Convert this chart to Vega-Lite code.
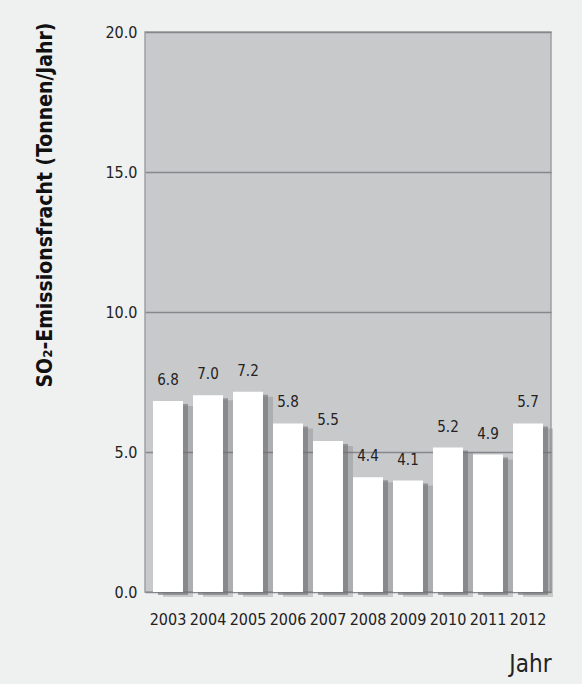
{
  "$schema": "https://vega.github.io/schema/vega-lite/v6.json",
  "width": 406,
  "height": 560,
  "autosize": {"type": "none"},
  "padding": {"left": 145, "top": 32, "right": 31, "bottom": 92},
  "background": "#eff0f0",
  "config": {
    "view": {"fill": "#c8c9cb", "stroke": "#9fa0a4", "strokeWidth": 1.5},
    "font": "'Liberation Sans Narrow', 'DejaVu Sans Condensed', sans-serif"
  },
  "data": {
    "values": [
      {"Jahr": "2003", "Wert": 6.82, "Label": "6.8"},
      {"Jahr": "2004", "Wert": 7.03, "Label": "7.0"},
      {"Jahr": "2005", "Wert": 7.15, "Label": "7.2"},
      {"Jahr": "2006", "Wert": 6.02, "Label": "5.8"},
      {"Jahr": "2007", "Wert": 5.39, "Label": "5.5"},
      {"Jahr": "2008", "Wert": 4.1, "Label": "4.4"},
      {"Jahr": "2009", "Wert": 3.98, "Label": "4.1"},
      {"Jahr": "2010", "Wert": 5.16, "Label": "5.2"},
      {"Jahr": "2011", "Wert": 4.91, "Label": "4.9"},
      {"Jahr": "2012", "Wert": 6.02, "Label": "5.7"}
    ]
  },
  "encoding": {
    "x": {
      "field": "Jahr",
      "type": "ordinal",
      "scale": {"paddingInner": 0.25, "paddingOuter": 0.2},
      "axis": {
        "title": "Jahr",
        "labelAngle": 0,
        "labelFontSize": 16,
        "labelColor": "#222",
        "labelPadding": 19,
        "ticks": false,
        "domain": false,
        "titleFontSize": 24,
        "titleFontWeight": "normal",
        "titleColor": "#222",
        "titleAnchor": "end",
        "titleAlign": "right",
        "titleBaseline": "middle",
        "titleX": 406,
        "titleY": 72
      }
    },
    "y": {
      "field": "Wert",
      "type": "quantitative",
      "scale": {"domain": [0, 20], "nice": false},
      "axis": {
        "title": "SO₂-Emissionsfracht (Tonnen/Jahr)",
        "values": [0, 5, 10, 15, 20],
        "format": ".1f",
        "labelFontSize": 16,
        "labelColor": "#222",
        "labelPadding": 8,
        "ticks": false,
        "domain": false,
        "grid": true,
        "gridColor": "#86878c",
        "gridWidth": 1.5,
        "titleFontSize": 21,
        "titleFontWeight": "bold",
        "titleColor": "#111",
        "titleAnchor": "end",
        "titleAlign": "right",
        "titleBaseline": "middle",
        "titleAngle": -90,
        "titleX": -100,
        "titleY": -10
      }
    }
  },
  "layer": [
    {
      "mark": {"type": "bar", "color": "#6f7075", "opacity": 0.3, "xOffset": 10, "x2Offset": 10, "yOffset": 5, "y2Offset": 8, "clip": false}
    },
    {
      "mark": {"type": "bar", "color": "#6f7075", "opacity": 0.6, "xOffset": 5, "x2Offset": 5, "yOffset": 3, "y2Offset": 5, "clip": false}
    },
    {
      "mark": {"type": "bar", "color": "#ffffff"}
    },
    {
      "mark": {"type": "text", "dy": -21, "fontSize": 15, "color": "#222"},
      "encoding": {"text": {"field": "Label"}}
    }
  ]
}
